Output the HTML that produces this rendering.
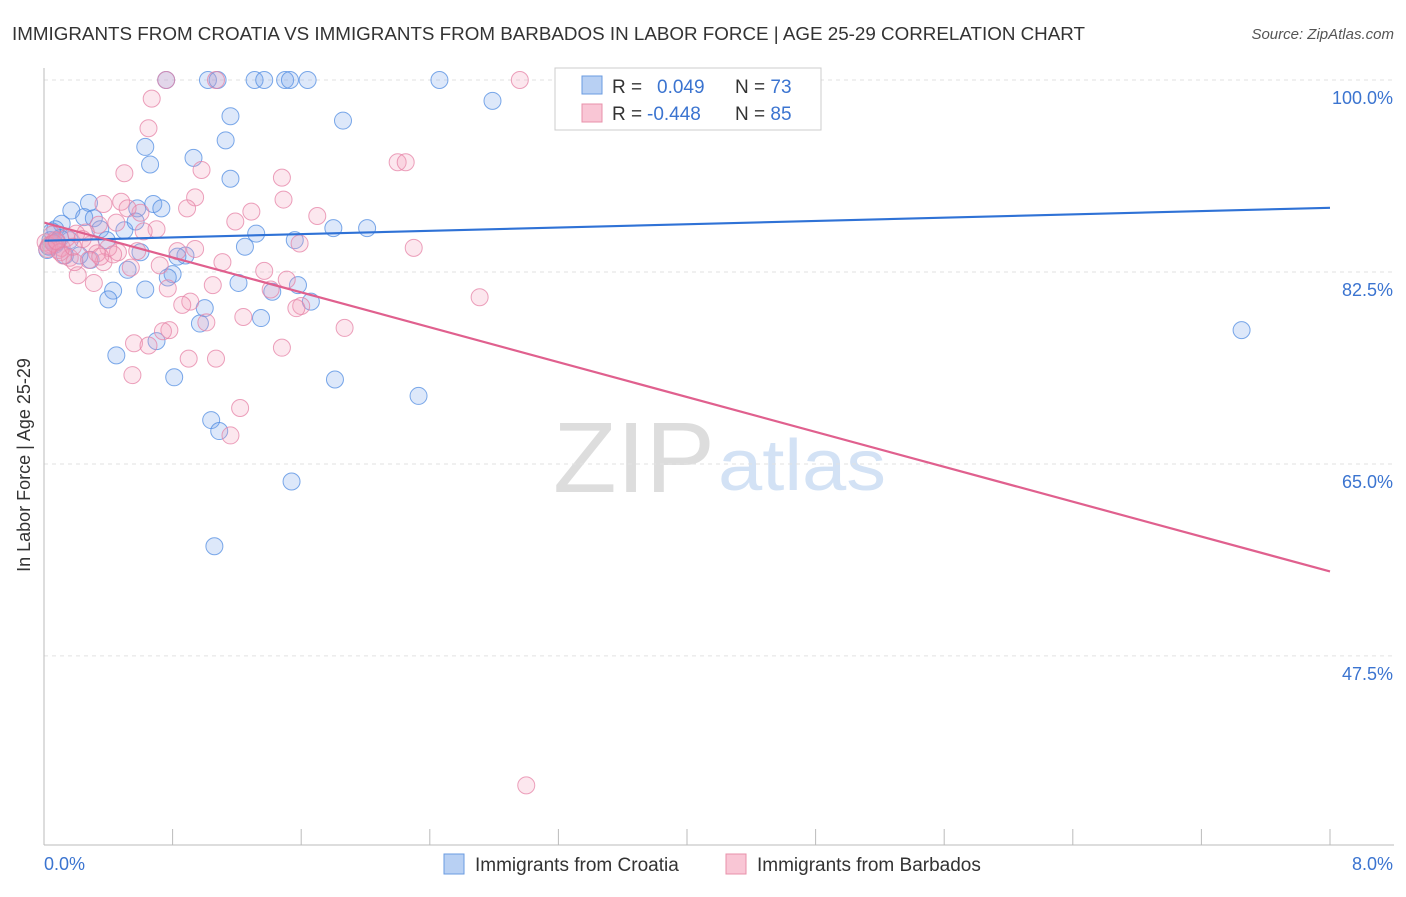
<!DOCTYPE html>
<html><head><meta charset="utf-8"><style>
body{margin:0;background:#fff;font-family:"Liberation Sans",sans-serif;}
svg text{font-family:"Liberation Sans",sans-serif;}
</style></head><body>
<svg id="chart" width="1406" height="892" xmlns="http://www.w3.org/2000/svg">
<text x="12" y="40" font-size="18" fill="#333" textLength="1073" lengthAdjust="spacingAndGlyphs">IMMIGRANTS FROM CROATIA VS IMMIGRANTS FROM BARBADOS IN LABOR FORCE | AGE 25-29 CORRELATION CHART</text>
<text x="1394" y="39" font-size="15" fill="#555" font-style="italic" text-anchor="end">Source: ZipAtlas.com</text>
<text x="553" y="492" font-size="100" fill="#ddd" font-family="Liberation Serif" textLength="162" lengthAdjust="spacingAndGlyphs">ZIP</text>
<text x="718" y="490" font-size="72" fill="#d3e2f5" textLength="168" lengthAdjust="spacingAndGlyphs">atlas</text>
<g id="grid"></g>
<g id="pts"></g>
<g id="lines"></g>
<line x1="44" y1="68" x2="44" y2="845" stroke="#bbb"/>
<line x1="44" y1="845" x2="1394" y2="845" stroke="#bbb"/>
<text x="20" y="455" font-size="18" fill="#333" transform="rotate(-90 30 455)" text-anchor="middle">In Labor Force | Age 25-29</text>
<text x="44" y="870" font-size="18" fill="#3b74d0">0.0%</text>
<text x="1393" y="870" font-size="18" fill="#3b74d0" text-anchor="end">8.0%</text>
<g>
<rect x="555" y="68" width="266" height="62" fill="#fff" stroke="#ccc"/>
<rect x="582" y="76" width="20" height="18" fill="#b8d0f3" stroke="#6a9be0"/>
<rect x="582" y="104" width="20" height="18" fill="#f9c6d5" stroke="#e890aa"/>
<text x="612" y="93" font-size="19" fill="#333">R = <tspan fill="#3b74d0" x="657">0.049</tspan><tspan x="735" fill="#333">N = </tspan><tspan fill="#3b74d0">73</tspan></text>
<text x="612" y="120" font-size="19" fill="#333">R = <tspan fill="#3b74d0" x="647">-0.448</tspan><tspan x="735" fill="#333">N = </tspan><tspan fill="#3b74d0">85</tspan></text>
</g>
<g>
<rect x="444" y="854" width="20" height="20" fill="#b8d0f3" stroke="#6a9be0"/>
<text x="475" y="871" font-size="19" fill="#333">Immigrants from Croatia</text>
<rect x="726" y="854" width="20" height="20" fill="#f9c6d5" stroke="#e890aa"/>
<text x="757" y="871" font-size="19" fill="#333">Immigrants from Barbados</text>
</g>
</svg>
<script>
const yTicks=[100,82.5,65,47.5];
const yTickLabels=["100.0%","82.5%","65.0%","47.5%"];
const xTicks=[0,0.8,1.6,2.4,3.2,4.0,4.8,5.6,6.4,7.2,8.0];
const croatiaX=[0.76,1.02,1.08,1.31,1.37,1.50,1.53,1.64,2.46,4.42,2.79,1.16,1.86,1.13,0.63,0.66,0.93,1.16,0.28,0.68,0.73,0.58,0.17,0.25,0.31,0.11,0.07,0.50,0.57,0.35,1.80,2.01,1.32,1.56,1.25,0.60,0.88,0.83,0.52,0.80,0.77,1.21,1.58,1.42,0.43,0.63,0.40,1.66,1.00,0.97,1.35,0.70,0.45,0.81,1.81,2.33,1.04,1.09,1.54,1.06,7.45,0.04,0.07,0.10,0.02,0.16,0.22,0.13,0.29,0.39,0.05,0.03,0.08];
const croatiaY=[100,100,100,100,100,100,100,100,100,100,98.1,96.7,96.3,94.5,93.9,92.3,92.9,91.0,88.8,88.7,88.3,88.3,88.1,87.5,87.4,86.9,86.4,86.3,87.1,86.4,86.5,86.5,86.0,85.4,84.8,84.3,84.0,83.9,82.7,82.3,82.0,81.5,81.3,80.7,80.8,80.9,80.0,79.8,79.2,77.8,78.3,76.2,74.9,72.9,72.7,71.2,69.0,68.0,63.4,57.5,77.2,85.4,85.0,85.6,84.5,85.4,84.0,84.0,83.6,85.4,86.2,84.8,85.2];
const barbadosX=[0.76,1.07,2.96,0.67,0.65,2.20,2.25,0.50,0.98,1.48,0.94,1.49,0.48,0.37,0.89,1.29,1.70,1.19,0.60,0.52,0.70,0.34,0.26,1.59,2.30,0.94,0.83,0.46,0.40,0.29,1.11,0.72,0.54,0.37,0.21,1.37,1.51,0.77,1.05,0.31,2.71,1.41,0.91,0.86,1.60,1.57,1.24,1.01,0.78,0.74,1.87,0.56,0.65,1.48,0.90,1.07,0.55,1.22,1.16,3.0,0.04,0.09,0.01,0.07,0.11,0.16,0.19,0.05,0.14,0.03,0.06,0.02,0.10,0.08,0.12,0.20,0.24,0.33,0.43,0.58,0.62,0.28,0.18,0.45,0.35];
const barbadosY=[100,100,100,98.3,95.6,92.5,92.5,91.5,91.8,91.1,89.3,89.1,88.9,88.7,88.3,88.0,87.6,87.1,87.9,88.3,86.4,86.8,86.1,85.1,84.7,84.6,84.4,84.3,84.7,85.0,83.4,83.1,82.9,83.4,82.2,82.6,81.8,81.0,81.3,81.5,80.2,80.9,79.8,79.5,79.4,79.2,78.4,77.9,77.2,77.1,77.4,76.0,75.8,75.6,74.6,74.6,73.1,70.1,67.6,35.7,85.0,84.5,85.2,85.4,84.7,83.8,83.4,85.9,85.6,84.9,85.1,84.6,84.3,85.3,84.0,86.0,85.5,84.2,84.1,84.4,86.2,83.6,84.8,87.0,83.9];
const croatiaTrend=[85.35,88.35];
const barbadosTrend=[87.0,55.2];
const xS=v=>44+v*160.75, yS=v=>80+(100-v)*10.97;
const NS="http://www.w3.org/2000/svg";
const grid=document.getElementById('grid');
yTicks.forEach((t,i)=>{
 const l=document.createElementNS(NS,'line');
 l.setAttribute('x1',44);l.setAttribute('x2',1394);l.setAttribute('y1',yS(t));l.setAttribute('y2',yS(t));
 l.setAttribute('stroke','#e2e2e2');l.setAttribute('stroke-dasharray','4,4');
 
 
 grid.appendChild(l);
 const tx=document.createElementNS(NS,'text');
 tx.setAttribute('x',1393);tx.setAttribute('y',yS(t)+24);tx.setAttribute('text-anchor','end');
 tx.setAttribute('font-size','18');tx.setAttribute('fill','#3b74d0');tx.textContent=yTickLabels[i];
 
 
 grid.appendChild(tx);
});
xTicks.forEach(t=>{
 const l=document.createElementNS(NS,'line');
 l.setAttribute('x1',xS(t));l.setAttribute('x2',xS(t));l.setAttribute('y1',829);l.setAttribute('y2',845);
 l.setAttribute('stroke','#bbb');
 
 
 grid.appendChild(l);
});
const pts=document.getElementById('pts');
function dots(xs,ys,fill,stroke,name){
 xs.forEach((x,i)=>{
  const c=document.createElementNS(NS,'circle');
  c.setAttribute('cx',xS(x));c.setAttribute('cy',yS(ys[i]));c.setAttribute('r',8.5);
  c.setAttribute('fill',fill);c.setAttribute('stroke',stroke);c.setAttribute('stroke-width','1');
  
  
  pts.appendChild(c);
 });
}
dots(croatiaX,croatiaY,'rgba(120,165,235,0.25)','rgba(80,140,225,0.75)','croatia-point');
dots(barbadosX,barbadosY,'rgba(242,160,188,0.25)','rgba(230,130,165,0.75)','barbados-point');
const lines=document.getElementById('lines');
function tl(v,color,name){
 const l=document.createElementNS(NS,'line');
 l.setAttribute('x1',xS(0));l.setAttribute('x2',xS(8));l.setAttribute('y1',yS(v[0]));l.setAttribute('y2',yS(v[1]));
 l.setAttribute('stroke',color);l.setAttribute('stroke-width','2.2');
 
 
 lines.appendChild(l);
}
tl(croatiaTrend,'#2f72d6','croatia-trend-line');
tl(barbadosTrend,'#e0608e','barbados-trend-line');
</script>
</body></html>
